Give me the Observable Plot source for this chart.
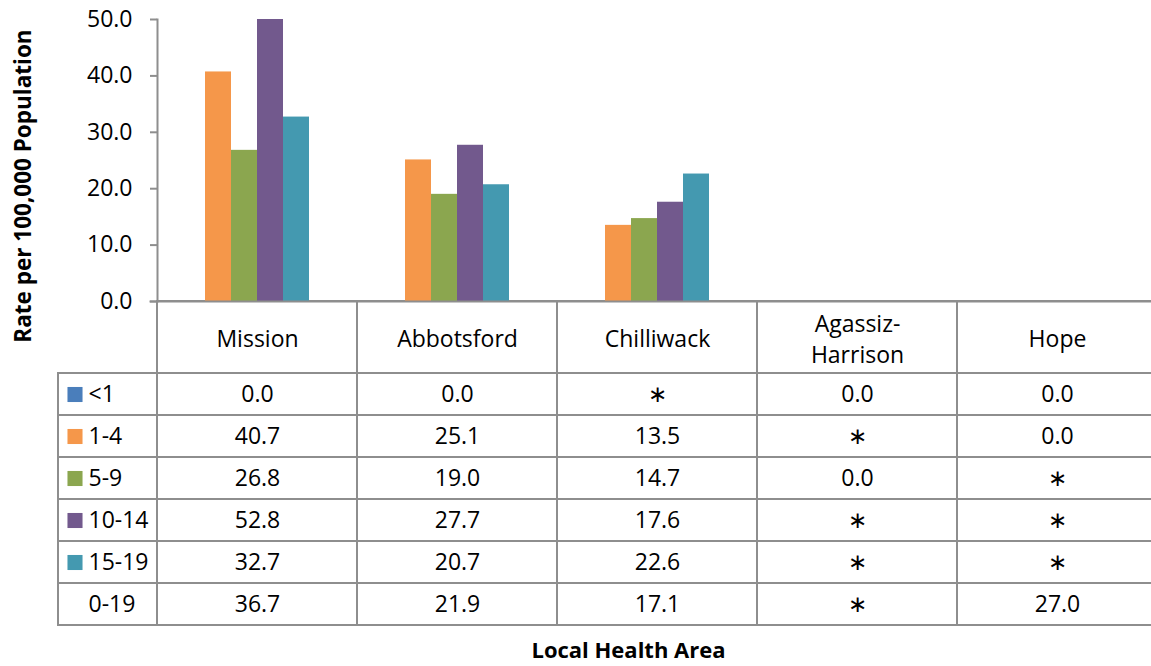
<!DOCTYPE html>
<html><head><meta charset="utf-8">
<script src="https://cdn.jsdelivr.net/npm/d3@7"></script>
<script src="https://cdn.jsdelivr.net/npm/@observablehq/plot@0.6"></script>
<style>
html,body{margin:0;padding:0;background:#fff;overflow:hidden;}
#wrap{position:relative;width:1151px;height:666px;overflow:hidden;font-family:"Open Sans",sans-serif;}
#chart,#table{position:absolute;left:0;width:1158px;}
#chart{top:0}
#table{top:301px}
#chart svg,#table svg{max-width:none !important;}
#ytitle{position:absolute;left:22px;top:186px;transform:translate(-50%,-50%) rotate(-90deg);font-weight:bold;font-size:22.5px;white-space:nowrap;color:#000;}
</style></head><body>
<div id="wrap"><div id="table"></div><div id="chart"></div><div id="ytitle">Rate per 100,000 Population</div></div>
<script>
const areas = ["Mission","Abbotsford","Chilliwack","Agassiz-Harrison","Hope"];
const areaLabels = ["Mission","Abbotsford","Chilliwack","Agassiz-\nHarrison","Hope"];
const ageGroups = ["<1","1-4","5-9","10-14","15-19","0-19"];
const barColors = ["#4a7ebb","#f5974a","#8ba64f","#72598d","#4499b0"];
const rateLT1 = [0.0, 0.0, null, 0.0, 0.0];
const rate1to4 = [40.7, 25.1, 13.5, null, 0.0];
const rate5to9 = [26.8, 19.0, 14.7, 0.0, null];
const rate10to14 = [52.8, 27.7, 17.6, null, null];
const rate15to19 = [32.7, 20.7, 22.6, null, null];
const rate0to19 = [36.7, 21.9, 17.1, null, 27.0];
const yTicks = [0, 10, 20, 30, 40, 50];
const xTitle = "Local Health Area";

const series = [rateLT1, rate1to4, rate5to9, rate10to14, rate15to19, rate0to19];
const records = [];
ageGroups.forEach((g, gi) => areas.forEach((a, ai) => records.push({group: g, area: a, value: series[gi][ai]})));

const gray = "#8e8e8e";
const font = "'Open Sans', sans-serif";
const style = {fontFamily: font, fontSize: "23px", color: "#000", background: "transparent", overflow: "visible", maxWidth: "none"};

const chart = Plot.plot({
  width: 1158, height: 303, marginLeft: 157, marginRight: 1, marginTop: 19, marginBottom: 2,
  style,
  fx: {domain: areas, padding: 0, axis: null, label: null},
  x: {domain: ageGroups, paddingInner: 0, paddingOuter: 0.75, axis: null},
  y: {domain: [0, 50], clamp: true, axis: null},
  color: {domain: ageGroups.slice(0, 5), range: barColors},
  marks: [
    Plot.barY(records.filter(d => d.group !== "0-19" && d.value != null), {fx: "area", x: "group", y: "value", fill: "group", inset: 0}),
    Plot.axisY({ticks: yTicks, tickSize: 7, tickPadding: 18, tickFormat: d => d.toFixed(1), stroke: gray, strokeWidth: 2, fill: "#000", label: null}),
    Plot.frame({anchor: "left", facet: "super", stroke: gray, strokeWidth: 2}),
    Plot.frame({anchor: "bottom", facet: "super", insetLeft: -7, stroke: gray, strokeWidth: 2})
  ]
});
document.getElementById("chart").append(chart);

const table = Plot.plot({
  width: 1158, height: 365, marginLeft: 157, marginRight: 1, marginTop: 72, marginBottom: 41,
  style,
  x: {domain: areas, padding: 0, axis: null},
  y: {domain: ageGroups, padding: 0, axis: null},
  color: {domain: ageGroups.slice(0, 5), range: barColors},
  marks: [
    Plot.cell(areas, {x: d => d, insetTop: -72, fill: "none", stroke: gray, strokeWidth: 2}),
    Plot.cell(ageGroups, {y: d => d, insetLeft: -99, fill: "none", stroke: gray, strokeWidth: 2}),
    Plot.text(areas, {x: d => d, text: (d, i) => areaLabels[i], frameAnchor: "top", lineAnchor: "middle", dy: -36, lineHeight: 1.35}),
    Plot.text(records, {x: "area", y: "group", text: d => d.value == null ? "\u2217" : d.value.toFixed(1)}),
    Plot.dot(ageGroups.slice(0, 5), {y: d => d, frameAnchor: "left", dx: -82.5, symbol: "square", r: 8.5, fill: d => d}),
    Plot.text(ageGroups, {y: d => d, text: d => d, frameAnchor: "left", dx: -69, textAnchor: "start"}),
    Plot.text([xTitle], {text: d => d, frameAnchor: "bottom", dy: 32, dx: -29, fontWeight: "bold", fontSize: 22})
  ]
});
document.getElementById("table").append(table);
</script>
</body></html>
